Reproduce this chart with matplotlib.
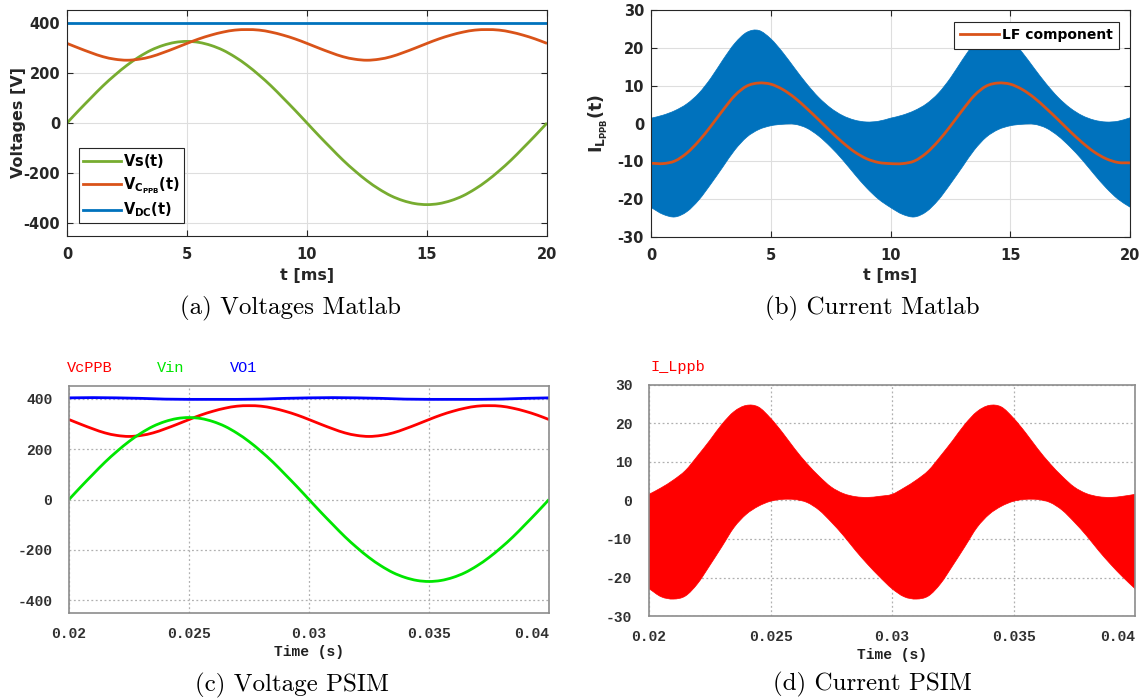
import numpy as np
import matplotlib
matplotlib.use("Agg")
import matplotlib.pyplot as plt
from matplotlib.path import Path
from matplotlib.patches import PathPatch
from matplotlib.lines import Line2D

plt.rcParams["mathtext.fontset"] = "dejavusans"

# ---------------------------------------------------------------- data
# time grid for the MATLAB panels, in ms (0.5 ms spacing)
t_ms = np.linspace(0, 20, 41)

# grid voltage Vs(t) [V]
vs = [0, 51, 100, 148, 191, 230, 263, 290, 309, 321, 325, 321, 309, 290, 263,
      230, 191, 148, 100, 51, 0, -51, -100, -148, -191, -230, -263, -290, -309,
      -321, -325, -321, -309, -290, -263, -230, -191, -148, -100, -51, 0]

# power-pulsation-buffer capacitor voltage [V]
vc_ppb = [317, 298, 280, 264, 254, 250, 254, 264, 280, 298, 317, 335, 350, 362,
          370, 372, 370, 362, 350, 335, 317, 298, 280, 264, 254, 250, 254, 264,
          280, 298, 317, 335, 350, 362, 370, 372, 370, 362, 350, 335, 317]

# DC bus voltage [V]
vdc_t = [0, 20]
vdc = [400, 400]

# inductor current envelope (switching ripple band) and its LF component [A]
il_upper = [1.4, 2.2, 3.4, 5.2, 8.0, 12.0, 16.8, 21.2, 24.1, 24.6, 22.4, 18.8,
            14.6, 10.5, 6.9, 4.1, 2.1, 0.9, 0.4, 0.6, 1.4, 2.2, 3.4, 5.2, 8.0,
            12.0, 16.8, 21.2, 24.1, 24.6, 22.4, 18.8, 14.6, 10.5, 6.9, 4.1,
            2.1, 0.9, 0.4, 0.6, 1.5]
il_lower = [-22.2, -24.0, -24.7, -23.3, -20.2, -16.0, -11.5, -7.0, -3.6, -1.6,
            -0.6, -0.2, -0.2, -1.2, -3.3, -6.2, -9.6, -13.4, -17.0, -20.0,
            -22.2, -24.0, -24.7, -23.3, -20.2, -16.0, -11.5, -7.0, -3.6, -1.6,
            -0.6, -0.2, -0.2, -1.2, -3.3, -6.2, -9.6, -13.4, -17.0, -20.0, -22.1]
il_lf = [-10.5, -10.6, -9.9, -7.8, -4.6, -0.7, 3.5, 7.4, 9.9, 10.7, 10.4, 9.0,
         6.8, 4.0, 1.0, -2.1, -5.0, -7.5, -9.3, -10.3, -10.6, -10.6, -9.9,
         -7.8, -4.6, -0.7, 3.5, 7.4, 9.9, 10.7, 10.4, 9.0, 6.8, 4.0, 1.0, -2.1,
         -5.0, -7.5, -9.3, -10.3, -10.4]

# PSIM simulation, time in s
t_s = np.linspace(0.02, 0.04, 41)
vin_psim = vs
vcppb_psim = vc_ppb
t_vo1 = np.linspace(0.02, 0.04, 21)
vo1_psim = [403, 404, 403, 401, 398, 397, 397, 397, 398, 401, 403, 404, 403,
            401, 398, 397, 397, 397, 398, 401, 403]
il_psim_upper = [1.6, 3.3, 5.3, 7.8, 11.6, 15.6, 19.8, 23.1, 24.7, 24.3, 21.4,
                 17.6, 13.4, 9.6, 6.3, 3.5, 1.8, 1.0, 0.8, 1.1, 1.6, 3.3, 5.3,
                 7.8, 11.6, 15.6, 19.8, 23.1, 24.7, 24.3, 21.4, 17.6, 13.4, 9.6,
                 6.3, 3.5, 1.8, 1.0, 0.8, 1.1, 1.6]
il_psim_lower = [-22.9, -25.0, -25.6, -24.8, -21.6, -16.9, -12.0, -7.0, -3.6,
                 -1.5, -0.2, 0.3, 0.25, -0.5, -2.5, -5.6, -9.1, -13.0, -16.6,
                 -19.9, -22.9, -25.0, -25.6, -24.8, -21.6, -16.9, -12.0, -7.0,
                 -3.6, -1.5, -0.2, 0.3, 0.25, -0.5, -2.5, -5.6, -9.1, -13.0,
                 -16.6, -19.9, -22.9]

ms_ticks = [0, 5, 10, 15, 20]
v_ticks = [-400, -200, 0, 200, 400]
i_ticks = [-30, -20, -10, 0, 10, 20, 30]
s_ticks = [0.02, 0.025, 0.03, 0.035, 0.04]
s_tick_labels = ["0.02", "0.025", "0.03", "0.035", "0.04"]


# ---------------------------------------------------------------- helpers
def spline_segments(x, y):
    """Catmull-Rom curve through the samples, as cubic Bezier vertices."""
    p = np.column_stack([np.asarray(x, float), np.asarray(y, float)])
    ext = np.vstack([2 * p[0] - p[1], p, 2 * p[-1] - p[-2]])
    verts = [tuple(p[0])]
    for i in range(1, len(p)):
        p0, p1, p2, p3 = ext[i - 1], ext[i], ext[i + 1], ext[i + 2]
        verts += [tuple(p1 + (p2 - p0) / 6), tuple(p2 - (p3 - p1) / 6), tuple(p2)]
    return verts


def smooth_line(ax, x, y, **kw):
    verts = spline_segments(x, y)
    codes = [Path.MOVETO] + [Path.CURVE4] * (len(verts) - 1)
    ax.add_patch(PathPatch(Path(verts, codes), fill=False, capstyle="butt",
                           joinstyle="round", **kw))


def smooth_band(ax, x, lower, upper, color):
    up = spline_segments(x, upper)
    lo = spline_segments(x[::-1], lower[::-1])
    verts = up + lo + [up[0]]
    codes = ([Path.MOVETO] + [Path.CURVE4] * (len(up) - 1) + [Path.LINETO]
             + [Path.CURVE4] * (len(lo) - 1) + [Path.CLOSEPOLY])
    ax.add_patch(PathPatch(Path(verts, codes), facecolor=color, edgecolor=color,
                           lw=0.5))


# ---------------------------------------------------------------- layout
W, H = 1144, 699
fig = plt.figure(figsize=(W / 100, H / 100), dpi=100)


def box(x0, y0, x1, y1):
    return [x0 / W, 1 - y1 / H, (x1 - x0) / W, (y1 - y0) / H]


M_BLUE, M_ORANGE, M_GREEN = "#0072BD", "#D95319", "#77AC30"
M_DARK = "#262626"
MONO = "Liberation Mono"
CAPTION = dict(family="cmr10", fontsize=18, ha="center", va="center")


def matlab_axes(ax, xticks, yticks):
    ax.set_xticks(xticks, [str(v) for v in xticks], fontweight="bold", fontsize=10.5)
    ax.set_yticks(yticks, [str(v) for v in yticks], fontweight="bold", fontsize=10.5)
    ax.tick_params(direction="in", length=4, width=0.8, top=True, right=True,
                   colors=M_DARK, pad=5)
    ax.tick_params(axis="x", pad=8)
    for s in ax.spines.values():
        s.set_color(M_DARK)
        s.set_linewidth(0.8)
    ax.grid(True, color="#dedede", linewidth=0.8)
    ax.set_axisbelow(True)


def psim_axes(ax, yticks):
    ax.set_xticks(s_ticks, s_tick_labels, family=MONO, fontweight="bold", fontsize=10.5)
    ax.set_yticks(yticks, [str(v) for v in yticks], family=MONO, fontweight="bold",
                  fontsize=10.5)
    ax.get_xticklabels()[-1].set_ha("right")
    ax.tick_params(length=0, colors="#303030", pad=10)
    ax.tick_params(axis="y", pad=12)
    for s in ax.spines.values():
        s.set_color("#8c8c8c")
        s.set_linewidth(1.2)
    ax.grid(True, color="#b0b0b0", linewidth=0.9, linestyle=(0, (1.5, 2)))
    ax.set_axisbelow(True)
    ax.set_xlim(0.02, 0.04)
    ax.set_xlabel("Time (s)", family=MONO, fontweight="bold", fontsize=10.5,
                  color="#202020", va="center")
    ax.xaxis.set_label_coords(0.5, -0.17)


# (a) voltages, MATLAB
ax_a = fig.add_axes(box(67, 10, 547, 236))
ax_a.set_xlim(0, 20)
ax_a.set_ylim(-450, 450)
smooth_line(ax_a, t_ms, vs, edgecolor=M_GREEN, lw=2)
smooth_line(ax_a, t_ms, vc_ppb, edgecolor=M_ORANGE, lw=2)
ax_a.plot(vdc_t, vdc, color=M_BLUE, lw=2)
matlab_axes(ax_a, ms_ticks, v_ticks)
ax_a.set_xlabel("t [ms]", fontweight="bold", fontsize=11.5, color=M_DARK, va="center")
ax_a.xaxis.set_label_coords(0.5, -0.175)
ax_a.set_ylabel("Voltages [V]", fontweight="bold", fontsize=11.5, color=M_DARK, va="center")
ax_a.yaxis.set_label_coords(-0.102, 0.5)
handles_a = [Line2D([], [], color=c, lw=2) for c in (M_GREEN, M_ORANGE, M_BLUE)]
labels_a = [r"$\mathbf{Vs(t)}$", r"$\mathbf{V_{C_{PPB}}(t)}$", r"$\mathbf{V_{DC}(t)}$"]
leg_a = ax_a.legend(handles_a, labels_a, loc="lower left",
                    bbox_to_anchor=(12 / 480, 13 / 226), borderaxespad=0,
                    fontsize=10.5, handlelength=2.6, handletextpad=0.2,
                    labelspacing=0.35, borderpad=0.25, fancybox=False,
                    edgecolor=M_DARK, framealpha=1)
leg_a.get_frame().set_linewidth(0.8)
fig.text(290 / W, 1 - 308 / H, "(a) Voltages Matlab", **CAPTION)

# (b) inductor current, MATLAB
ax_b = fig.add_axes(box(651, 10, 1130, 237))
ax_b.set_xlim(0, 20)
ax_b.set_ylim(-30, 30)
smooth_band(ax_b, t_ms, np.array(il_lower), np.array(il_upper), M_BLUE)
smooth_line(ax_b, t_ms, il_lf, edgecolor=M_ORANGE, lw=2)
matlab_axes(ax_b, ms_ticks, i_ticks)
ax_b.set_xlabel("t [ms]", fontweight="bold", fontsize=11.5, color=M_DARK, va="center")
ax_b.xaxis.set_label_coords(0.5, -0.17)
ax_b.set_ylabel(r"$\mathbf{I_{L_{PPB}}(t)}$", fontsize=12.5, color=M_DARK, va="center")
ax_b.yaxis.set_label_coords(-0.109, 0.5)
leg_b = ax_b.legend([Line2D([], [], color=M_ORANGE, lw=2)], ["LF component"],
                    loc="upper right", bbox_to_anchor=(1 - 11 / 479, 1 - 12 / 227),
                    borderaxespad=0, prop=dict(weight="bold", size=10),
                    handlelength=2.8, handletextpad=0.2, borderpad=0.45,
                    fancybox=False, edgecolor=M_DARK, framealpha=1)
leg_b.get_frame().set_linewidth(0.8)
fig.text(872 / W, 1 - 308 / H, "(b) Current Matlab", **CAPTION)

# (c) voltages, PSIM
ax_c = fig.add_axes(box(69, 386, 549, 613))
ax_c.set_ylim(-450, 450)
smooth_line(ax_c, t_s, vcppb_psim, edgecolor="#ff0000", lw=2)
smooth_line(ax_c, t_s, vin_psim, edgecolor="#00e600", lw=2)
ax_c.plot(t_vo1, vo1_psim, color="#0000ff", lw=2)
psim_axes(ax_c, v_ticks)
for x, name, col in [(67, "VcPPB", "#ff0000"), (157, "Vin", "#00e600"), (230, "VO1", "#0000ff")]:
    fig.text(x / W, 1 - 368 / H, name, family=MONO, fontsize=11, color=col,
             ha="left", va="center")
fig.text(292 / W, 1 - 685 / H, "(c) Voltage PSIM", **CAPTION)

# (d) inductor current, PSIM
ax_d = fig.add_axes(box(649, 385, 1135, 616))
ax_d.set_ylim(-30, 30)
smooth_band(ax_d, t_s, np.array(il_psim_lower), np.array(il_psim_upper), "#ff0000")
psim_axes(ax_d, i_ticks)
fig.text(650 / W, 1 - 367 / H, "I_Lppb", family=MONO, fontsize=11, color="#ff0000",
         ha="left", va="center")
fig.text(872 / W, 1 - 684 / H, "(d) Current PSIM", **CAPTION)

fig.savefig("out.png", dpi=100)
